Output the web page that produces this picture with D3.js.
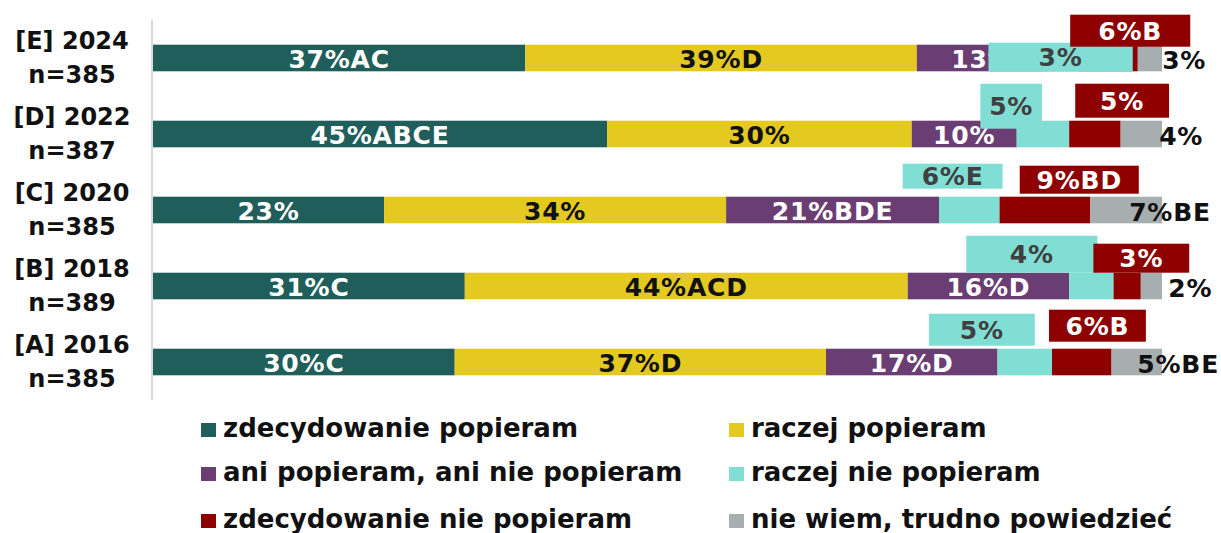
<!DOCTYPE html>
<html>
<head>
<meta charset="utf-8">
<script src="https://cdn.jsdelivr.net/npm/d3@7"></script>
<style>
  html, body { margin: 0; padding: 0; background: #fff; }
  svg { display: block; }
  text { font-family: "DejaVu Sans", sans-serif; font-weight: bold; }
</style>
</head>
<body>
<svg id="chart" width="1221" height="533"></svg>
<script>
// ---------- DATA ----------
const years = ["[E] 2024", "[D] 2022", "[C] 2020", "[B] 2018", "[A] 2016"];
const sampleSizes = ["n=385", "n=387", "n=385", "n=389", "n=385"];
const seriesNames = ["zdecydowanie popieram", "raczej popieram", "ani popieram, ani nie popieram",
                     "raczej nie popieram", "zdecydowanie nie popieram", "nie wiem, trudno powiedzieć"];

const strongSupport   = [36.9, 45.0, 22.9, 30.9, 29.9];
const ratherSupport   = [38.8, 30.2, 33.9, 43.9, 36.8];
const neither         = [13.0, 10.4, 21.1, 16.0, 17.0];
const ratherOppose    = [3.0, 5.2, 6.0, 4.4, 5.4];
const strongOppose    = [5.9, 5.1, 9.0, 2.7, 5.9];
const dontKnow        = [2.4, 4.1, 7.1, 2.1, 5.0];

const strongSupportLabels = ["37%AC", "45%ABCE", "23%", "31%C", "30%C"];
const ratherSupportLabels = ["39%D", "30%", "34%", "44%ACD", "37%D"];
const neitherLabels       = ["13%", "10%", "21%BDE", "16%D", "17%D"];
const ratherOpposeLabels  = ["3%", "5%", "6%E", "4%", "5%"];
const strongOpposeLabels  = ["6%B", "5%", "9%BD", "3%", "6%B"];
const dontKnowLabels      = ["3%", "4%", "7%BE", "2%", "5%BE"];

// ---------- LAYOUT / STYLE ----------
const colors = ["#1F5E5B", "#E3C920", "#6A3E73", "#80DED5", "#8E0000", "#A6AEB0"];
const labelColors = ["#ffffff", "#111111", "#ffffff", "#404040", "#ffffff", "#111111"];

// Callout boxes for the small segments: [start %, end %, top offset px, bottom offset px] relative to bar top
const cyanCallouts = [[82.8, 97.1, -2, 27], [82.0, 88.1, -37, 8], [74.3, 84.2, -33, -8], [80.6, 93.6, -37, 0], [76.9, 87.4, -35, -3]];
const redCallouts  = [[90.9, 102.8, -30, 2], [91.4, 100.7, -37, -3], [85.9, 97.7, -31, -3], [93.2, 102.7, -29, 0], [88.8, 98.4, -39, -7]];
const grayLabelPos = [102.2, 101.9, 100.8, 102.8, 101.6];

const series = [strongSupport, ratherSupport, neither, ratherOppose, strongOppose, dontKnow];
const seriesLabels = [strongSupportLabels, ratherSupportLabels, neitherLabels, ratherOpposeLabels, strongOpposeLabels, dontKnowLabels];

const rows = years.map((yr, i) => {
  const r = { year: yr };
  seriesNames.forEach((s, k) => { r[s] = series[k][i]; });
  return r;
});

const svg = d3.select("#chart");
const x = d3.scaleLinear().domain([0, 100]).range([153, 1162]);
const y = d3.scaleBand().domain(years).range([20, 400]).paddingInner(0.65).paddingOuter(0.325);
const bw = y.bandwidth();

const stack = d3.stack().keys(seriesNames)(rows);

// bars
const layers = svg.append("g").selectAll("g").data(stack).join("g")
  .attr("fill", (d, k) => colors[k]);
layers.selectAll("rect").data(d => d).join("rect")
  .attr("x", d => x(d[0]))
  .attr("y", d => y(d.data.year))
  .attr("width", d => x(d[1]) - x(d[0]))
  .attr("height", bw);

// axis line
svg.append("line")
  .attr("x1", x(0) - 1).attr("x2", x(0) - 1)
  .attr("y1", y.range()[0]).attr("y2", y.range()[1])
  .attr("stroke", "#D9D9D9").attr("stroke-width", 2);

// category labels
const yl = svg.append("g");
years.forEach((yr, i) => {
  const c = y(yr) + bw / 2;
  yl.append("text").attr("x", 72).attr("y", c - 9).attr("text-anchor", "middle")
    .attr("font-size", 24).attr("fill", "#111").text(yr);
  yl.append("text").attr("x", 72).attr("y", c + 25).attr("text-anchor", "middle")
    .attr("font-size", 24).attr("fill", "#111").text(sampleSizes[i]);
});

// in-bar labels for first three series
const inner = svg.append("g");
[0, 1, 2].forEach(k => {
  stack[k].forEach((d, i) => {
    inner.append("text")
      .attr("x", (x(d[0]) + x(d[1])) / 2)
      .attr("y", y(d.data.year) + bw / 2 + 10)
      .attr("text-anchor", "middle")
      .attr("font-size", 25).attr("letter-spacing", 0.8)
      .attr("fill", labelColors[k])
      .text(seriesLabels[k][i]);
  });
});

// callouts
function drawCallouts(boxes, k) {
  const g = svg.append("g");
  boxes.forEach((b, i) => {
    const top = y(years[i]) + b[2];
    const bot = y(years[i]) + b[3];
    g.append("rect")
      .attr("x", x(b[0])).attr("y", top)
      .attr("width", x(b[1]) - x(b[0])).attr("height", bot - top)
      .attr("fill", colors[k]);
    g.append("text")
      .attr("x", (x(b[0]) + x(b[1])) / 2)
      .attr("y", (top + bot) / 2 + 9)
      .attr("text-anchor", "middle")
      .attr("font-size", 25).attr("letter-spacing", 0.8)
      .attr("fill", labelColors[k])
      .text(seriesLabels[k][i]);
  });
}
drawCallouts(cyanCallouts, 3);
drawCallouts(redCallouts, 4);

// outside labels for "nie wiem"
const outer = svg.append("g");
years.forEach((yr, i) => {
  outer.append("text")
    .attr("x", x(grayLabelPos[i]))
    .attr("y", y(yr) + bw / 2 + 11)
    .attr("text-anchor", "middle")
    .attr("font-size", 25).attr("letter-spacing", 0.8)
    .attr("fill", labelColors[5])
    .text(seriesLabels[5][i]);
});

// legend
const legendCols = [201, 729];
const legendRows = [437, 481, 528];
const lg = svg.append("g");
seriesNames.forEach((name, k) => {
  const cx = legendCols[k % 2];
  const by = legendRows[Math.floor(k / 2)];
  lg.append("rect").attr("x", cx).attr("y", by - 14).attr("width", 15).attr("height", 14)
    .attr("fill", colors[k]);
  lg.append("text").attr("x", cx + 22).attr("y", by)
    .attr("font-size", 26).attr("fill", "#111").text(name);
});
</script>
</body>
</html>
